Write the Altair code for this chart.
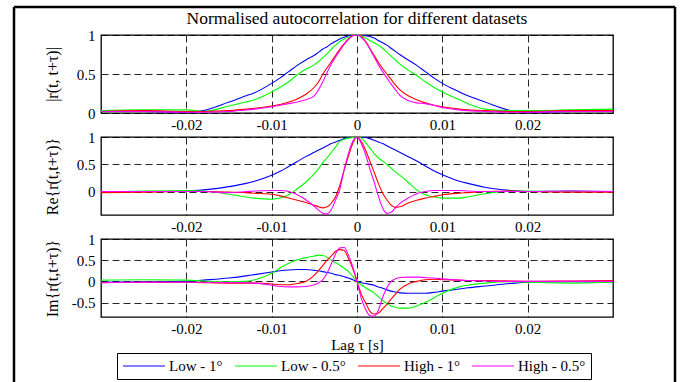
import altair as alt
import pandas as pd

# ---------------- data ----------------
lags = [-0.03, -0.025, -0.02, -0.018, -0.015, -0.013, -0.012, -0.01, -0.009, -0.008,
        -0.007, -0.006, -0.005, -0.0045, -0.004, -0.0035, -0.003, -0.0025, -0.002, -0.0015,
        -0.001, -0.0005, 0.0, 0.0005, 0.001, 0.0015, 0.002, 0.0025, 0.003, 0.0035,
        0.004, 0.0045, 0.005, 0.006, 0.007, 0.008, 0.009, 0.01, 0.012, 0.013,
        0.015, 0.018, 0.02, 0.025, 0.03]

series_names = ["Low - 1°", "Low - 0.5°", "High - 1°", "High - 0.5°"]
series_colors = ["#0000ff", "#00ff00", "#ff0000", "#ff00ff"]

title_text = "Normalised autocorrelation for different datasets"

# |r(t, t+tau)|
abs_low1 = [0.02, 0.02, 0.01, 0.03, 0.14, 0.22, 0.26, 0.38, 0.45, 0.53,
            0.61, 0.68, 0.74, 0.78, 0.82, 0.85, 0.89, 0.92, 0.95, 0.97,
            0.99, 1.0, 1.0, 1.0, 0.99, 0.98, 0.96, 0.93, 0.90, 0.87,
            0.83, 0.79, 0.75, 0.68, 0.61, 0.53, 0.45, 0.38, 0.27, 0.22,
            0.14, 0.03, 0.01, 0.02, 0.02]
abs_low05 = [0.03, 0.04, 0.04, 0.02, 0.09, 0.14, 0.17, 0.27, 0.33, 0.40,
             0.49, 0.56, 0.62, 0.66, 0.71, 0.76, 0.82, 0.87, 0.92, 0.95,
             0.97, 0.99, 1.0, 0.99, 0.96, 0.93, 0.90, 0.87, 0.83, 0.78,
             0.73, 0.68, 0.63, 0.55, 0.48, 0.40, 0.33, 0.27, 0.17, 0.12,
             0.05, 0.03, 0.03, 0.04, 0.05]
abs_high1 = [0.02, 0.03, 0.02, 0.02, 0.03, 0.05, 0.06, 0.09, 0.11, 0.14,
             0.18, 0.24, 0.33, 0.40, 0.50, 0.58, 0.66, 0.74, 0.82, 0.89,
             0.95, 0.99, 1.0, 0.98, 0.92, 0.83, 0.74, 0.65, 0.57, 0.50,
             0.43, 0.36, 0.30, 0.22, 0.17, 0.13, 0.10, 0.08, 0.05, 0.04,
             0.03, 0.02, 0.02, 0.03, 0.03]
abs_high05 = [0.02, 0.02, 0.01, 0.01, 0.02, 0.04, 0.05, 0.08, 0.10, 0.12,
              0.14, 0.17, 0.22, 0.30, 0.40, 0.52, 0.63, 0.72, 0.80, 0.88,
              0.94, 0.99, 1.0, 0.97, 0.91, 0.82, 0.72, 0.62, 0.53, 0.45,
              0.37, 0.30, 0.23, 0.16, 0.13, 0.12, 0.10, 0.07, 0.04, 0.03,
              0.02, 0.01, 0.01, 0.02, 0.02]

# Re{r(t, t+tau)}
re_low1 = [0.0, 0.0, 0.01, 0.03, 0.09, 0.15, 0.19, 0.30, 0.37, 0.46,
           0.55, 0.64, 0.72, 0.76, 0.80, 0.84, 0.88, 0.91, 0.94, 0.97,
           0.99, 1.0, 1.0, 1.0, 0.99, 0.97, 0.94, 0.91, 0.88, 0.84,
           0.80, 0.76, 0.72, 0.64, 0.56, 0.47, 0.38, 0.31, 0.19, 0.15,
           0.08, 0.02, 0.0, 0.01, 0.0]
re_low05 = [-0.01, 0.01, 0.02, 0.01, -0.05, -0.10, -0.12, -0.14, -0.12, -0.06,
            0.05, 0.17, 0.33, 0.42, 0.53, 0.62, 0.72, 0.82, 0.92, 0.96,
            0.98, 0.99, 1.0, 0.98, 0.90, 0.80, 0.70, 0.62, 0.56, 0.50,
            0.43, 0.36, 0.30, 0.17, 0.03, -0.06, -0.10, -0.12, -0.12, -0.10,
            -0.04, 0.01, 0.01, 0.0, 0.0]
re_high1 = [-0.02, -0.01, 0.0, 0.0, -0.01, -0.02, -0.03, -0.05, -0.08, -0.12,
            -0.16, -0.20, -0.25, -0.28, -0.30, -0.28, -0.21, -0.09, 0.12, 0.40,
            0.65, 0.88, 1.0, 0.92, 0.76, 0.56, 0.36, 0.15, -0.03, -0.15,
            -0.25, -0.29, -0.28, -0.21, -0.16, -0.12, -0.09, -0.06, -0.03, -0.02,
            0.0, 0.01, 0.0, -0.01, -0.01]
re_high05 = [0.0, 0.0, 0.0, 0.0, -0.02, 0.0, 0.01, 0.02, 0.02, 0.0,
             -0.06, -0.15, -0.27, -0.34, -0.40, -0.41, -0.33, -0.15, 0.05, 0.40,
             0.70, 0.92, 1.0, 0.88, 0.68, 0.42, 0.18, -0.08, -0.30, -0.40,
             -0.38, -0.30, -0.22, -0.12, -0.04, 0.0, 0.02, 0.02, 0.02, 0.01,
             0.0, 0.0, 0.0, 0.01, 0.0]

# Im{r(t, t+tau)}
im_low1 = [-0.02, -0.01, 0.0, 0.03, 0.08, 0.13, 0.16, 0.22, 0.25, 0.27,
           0.28, 0.28, 0.26, 0.25, 0.23, 0.21, 0.19, 0.16, 0.14, 0.11,
           0.08, 0.04, 0.0, -0.03, -0.05, -0.07, -0.09, -0.13, -0.16, -0.20,
           -0.23, -0.25, -0.27, -0.28, -0.28, -0.28, -0.26, -0.23, -0.18, -0.15,
           -0.11, -0.05, -0.02, -0.01, -0.02]
im_low05 = [0.03, 0.04, 0.03, 0.01, -0.01, 0.0, 0.04, 0.19, 0.32, 0.43,
            0.51, 0.56, 0.60, 0.62, 0.61, 0.57, 0.50, 0.44, 0.38, 0.31,
            0.23, 0.12, 0.0, -0.08, -0.15, -0.21, -0.27, -0.36, -0.45, -0.52,
            -0.58, -0.61, -0.63, -0.63, -0.58, -0.50, -0.39, -0.28, -0.13, -0.09,
            -0.04, -0.01, -0.02, -0.04, -0.02]
im_high1 = [-0.03, -0.02, -0.02, -0.03, -0.04, -0.04, -0.04, -0.06, -0.08, -0.08,
            -0.05, 0.0, 0.15, 0.26, 0.38, 0.50, 0.60, 0.71, 0.75, 0.73,
            0.54, 0.30, 0.0, -0.30, -0.50, -0.70, -0.77, -0.75, -0.65, -0.54,
            -0.42, -0.30, -0.19, -0.06, 0.0, 0.04, 0.05, 0.04, 0.03, 0.02,
            0.02, 0.01, 0.0, 0.01, 0.02]
im_high05 = [-0.03, -0.02, -0.02, -0.02, -0.03, -0.03, -0.04, -0.09, -0.12, -0.13,
             -0.13, -0.12, -0.08, -0.03, 0.04, 0.20, 0.42, 0.65, 0.79, 0.80,
             0.62, 0.35, 0.0, -0.40, -0.65, -0.81, -0.82, -0.68, -0.38, -0.15,
             0.0, 0.06, 0.09, 0.10, 0.10, 0.09, 0.08, 0.06, 0.03, 0.02,
             0.01, 0.0, 0.0, 0.0, 0.0]

x_tick_values = [-0.02, -0.01, 0.0, 0.01, 0.02]

# ---------------- chart ----------------
FONT = "Liberation Serif"
W, H = 512, 78
DASH = [7, 4]


def make_df(value_lists):
    rows = []
    for name, vals in zip(series_names, value_lists):
        for lag, v in zip(lags, vals):
            rows.append({"lag": lag, "value": v, "series": name})
    return pd.DataFrame(rows)


def panel(value_lists, ydomain, yvalues, ytitle, xtitle=None, legend=None, extra_layers=()):
    df = make_df(value_lists)
    x_axis = alt.Axis(values=x_tick_values, labelExpr="'' + datum.value",
                      grid=True, gridDash=DASH, gridColor="black", gridOpacity=0.85,
                      ticks=False, domain=False, labelPadding=4,
                      labelFont=FONT, labelFontSize=15, labelColor="black",
                      title=xtitle, titleFont=FONT, titleFontSize=15,
                      titleFontWeight="normal", titleColor="black", titlePadding=1)
    y_axis = alt.Axis(values=yvalues, labelExpr="'' + datum.value",
                      grid=True, gridDash=DASH, gridColor="black", gridOpacity=0.85,
                      ticks=False, domain=False, labelPadding=6,
                      labelFont=FONT, labelFontSize=15, labelColor="black",
                      title=ytitle, titleFont=FONT, titleFontSize=16,
                      titleFontWeight="normal", titleColor="black",
                      titleX=-49, titleY=H / 2, titleAngle=270,
                      titleAlign="center", titleBaseline="middle")
    color = alt.Color("series:N",
                      scale=alt.Scale(domain=series_names, range=series_colors),
                      legend=legend)
    layers = list(extra_layers)
    for name in series_names:
        layers.append(
            alt.Chart(df)
            .transform_filter(alt.datum.series == name)
            .mark_line(strokeWidth=1.1, clip=True, interpolate="monotone")
            .encode(
                x=alt.X("lag:Q", scale=alt.Scale(domain=[-0.03, 0.03], nice=False, zero=False), axis=x_axis),
                y=alt.Y("value:Q", scale=alt.Scale(domain=ydomain, nice=False, zero=False), axis=y_axis),
                color=color,
            )
        )
    return alt.layer(*layers).properties(width=W, height=H)


# figure frame and title (decoration only)
deco_src = alt.Chart(pd.DataFrame({"k": [0]}))
frame_top = deco_src.mark_rule(color="black", strokeWidth=2.5).encode(
    x=alt.value(-87), x2=alt.value(574), y=alt.value(-28))
frame_left = deco_src.mark_rule(color="black", strokeWidth=2.5).encode(
    x=alt.value(-87), y=alt.value(-28), y2=alt.value(348))
frame_right = deco_src.mark_rule(color="black", strokeWidth=2.5).encode(
    x=alt.value(574), y=alt.value(-28), y2=alt.value(348))
title_mark = deco_src.mark_text(font=FONT, fontSize=17.5, align="center",
                                baseline="middle", color="black").encode(
    x=alt.value(W / 2), y=alt.value(-16), text=alt.value(title_text))

p1 = panel([abs_low1, abs_low05, abs_high1, abs_high05], [0, 1], [0, 0.5, 1],
           "|r(t, t+τ)|", extra_layers=(frame_top, frame_left, frame_right, title_mark))
p2 = panel([re_low1, re_low05, re_high1, re_high05], [-0.43, 1], [0, 0.5, 1],
           "Re{r(t,t+τ)}")
# legend line samples: a custom horizontal stroke path that is 42 px long
legend = alt.Legend(orient="none", legendX=16, legendY=114, direction="horizontal",
                    columns=4, title=None, symbolType="M-1,0H5", symbolSize=196,
                    symbolStrokeWidth=1.1, symbolFillColor="transparent",
                    labelFont=FONT, labelFontSize=15,
                    labelColor="black", labelOffset=31, columnPadding=9,
                    strokeColor="black", fillColor="white", padding=5)
p3 = panel([im_low1, im_low05, im_high1, im_high05], [-0.84, 1], [-0.5, 0, 0.5, 1],
           "Im{r(t,t+τ)}", xtitle="Lag τ [s]", legend=legend)

chart = (
    alt.vconcat(p1, p2, p3, spacing=24, bounds="flush")
    .resolve_scale(y="independent", x="independent", color="shared")
    .resolve_axis(x="independent", y="independent")
    .resolve_legend(color="independent")
    .properties(padding={"left": 12, "top": 5, "right": 5, "bottom": 0},
                background="white")
    .configure(font=FONT)
    .configure_axis(labelFont=FONT, titleFont=FONT)
    .configure_legend(labelFont=FONT)
    .configure_view(stroke="black", strokeWidth=1.3)
)

chart.save("out.html", embed_options={"renderer": "svg", "actions": False})
